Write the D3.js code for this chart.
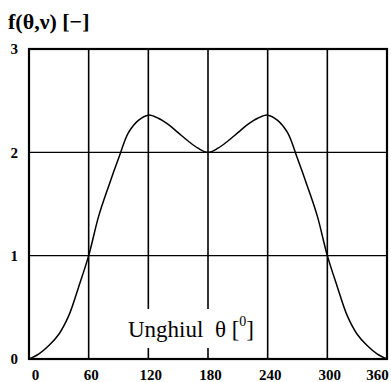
<!DOCTYPE html>
<html><head><meta charset="utf-8">
<script src="https://cdn.jsdelivr.net/npm/d3@7"></script>
<style>body{margin:0;background:#fff}svg{display:block}</style>
</head><body>
<svg id="c" width="391" height="382"></svg>
<script>
const theta = [0,10,20,30,40,50,60,70,80,90,100,110,120,130,140,150,160,170,180,190,200,210,220,230,240,250,260,270,280,290,300,310,320,330,340,350,360];
const fVal  = [0,0.05,0.13,0.24,0.42,0.70,1.00,1.38,1.67,1.94,2.19,2.31,2.36,2.33,2.27,2.19,2.11,2.04,2.00,2.04,2.11,2.19,2.27,2.33,2.36,2.31,2.19,1.94,1.67,1.38,1.00,0.70,0.42,0.24,0.13,0.05,0];
const xTicks = [0,60,120,180,240,300,360];
const yTicks = [0,1,2,3];
const yTitle = "f(θ,ν) [−]";
const xTitle = "Unghiul\u00a0\u00a0θ\u00a0[";

const svg = d3.select("#c");
const x = d3.scaleLinear().domain([0,360]).range([29,387]);
const y = d3.scaleLinear().domain([0,3]).range([359,49]);
const serif = "'Liberation Serif','Times New Roman',serif";

// grid
svg.append("g").selectAll("line").data(xTicks.slice(1,-1)).join("line")
  .attr("x1",d=>x(d)).attr("x2",d=>x(d)).attr("y1",y(0)).attr("y2",y(3))
  .attr("stroke","#000").attr("stroke-width",1.6);
svg.append("g").selectAll("line").data(yTicks.slice(1,-1)).join("line")
  .attr("x1",x(0)).attr("x2",x(360)).attr("y1",d=>y(d)).attr("y2",d=>y(d))
  .attr("stroke","#000").attr("stroke-width",1.4);

// curve
svg.append("path").datum(theta.map((t,i)=>[t,fVal[i]]))
  .attr("d",d3.line().x(d=>x(d[0])).y(d=>y(d[1])).curve(d3.curveCatmullRom))
  .attr("fill","none").attr("stroke","#000").attr("stroke-width",1.5);

// label box
svg.append("rect").attr("x",124).attr("y",309).attr("width",142).attr("height",39).attr("fill","#fff");
const lab = svg.append("text").attr("x",128).attr("y",337).attr("font-family",serif).attr("font-size",23).attr("fill","#000");
lab.append("tspan").text(xTitle);
lab.append("tspan").attr("font-size",14).attr("dy",-11).text("0");
lab.append("tspan").attr("dy",11).text("]");

// frame
svg.append("rect").attr("x",x(0)).attr("y",y(3)).attr("width",x(360)-x(0)).attr("height",y(0)-y(3))
  .attr("fill","none").attr("stroke","#000").attr("stroke-width",2.2);

// axes ticks labels
const xa = d3.axisBottom(x).tickValues(xTicks).tickSize(0).tickPadding(10).tickFormat(d3.format("d"));
const gx = svg.append("g").attr("transform",`translate(0,${y(0)})`).call(xa);
gx.select(".domain").remove();
gx.selectAll("text").attr("font-family",serif).attr("font-weight","bold").attr("font-size",15).attr("fill","#000")
  .attr("dx",d=>d===0?6:(d===360?-10:2));
const ya = d3.axisLeft(y).tickValues(yTicks).tickSize(0).tickPadding(11).tickFormat(d3.format("d"));
const gy = svg.append("g").attr("transform",`translate(${x(0)},0)`).call(ya);
gy.select(".domain").remove();
gy.selectAll("text").attr("font-family",serif).attr("font-weight","bold").attr("font-size",15).attr("fill","#000");

svg.append("text").attr("x",8).attr("y",29).attr("font-family",serif).attr("font-weight","bold")
  .attr("font-size",22).attr("fill","#000").text(yTitle);
</script>
</body></html>
